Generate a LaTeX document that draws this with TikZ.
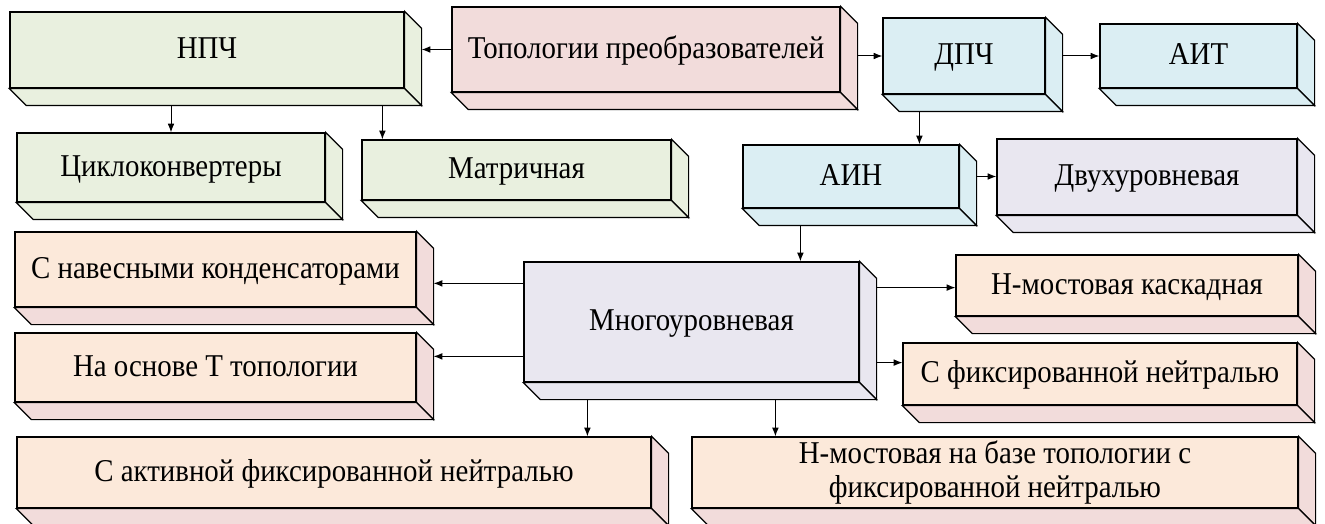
\documentclass[tikz,border=0pt]{standalone}
\usepackage{fontspec}
\setmainfont[FakeStretch=0.91]{Liberation Serif}
\usetikzlibrary{arrows.meta,calc}

\definecolor{grn}{HTML}{E9F0DF}
\definecolor{pnk}{HTML}{F2DCDB}
\definecolor{blu}{HTML}{DBEEF3}
\definecolor{lav}{HTML}{E9E7F0}
\definecolor{pch}{HTML}{FCE9DA}

\tikzset{
  face/.style={draw=black, line width=0.9pt, inner sep=0pt, align=center,
    font=\fontsize{23.8pt}{26.2pt}\selectfont},
  oneline/.style={text height=18pt, text depth=5.2pt},
  twoline/.style={},
  depthface/.style={draw=black, line width=0.9pt, line join=miter},
  arr/.style={draw=black, line width=0.75pt, -{Latex[length=6.5pt,width=5pt]}}
}

% \slab{name}{x1}{y1}{x2}{y2}{front colour}{side colour}{text}{text style}
% draws a block with a front face and two faces receding to the lower right
\newcommand\slab[9]{%
  \node[face, #9, fill=#6, minimum width={(#4-#2)*0.75pt}, minimum height={(#5-#3)*0.75pt}]
    (#1) at ({(#2+#4)/2},{(#3+#5)/2}) {#8};
  \filldraw[depthface, fill=#7] (#1.north east) -- ++(17,17) -- ($(#1.south east)+(17,17)$) -- (#1.south east) -- cycle;
  \filldraw[depthface, fill=#7] (#1.south west) -- (#1.south east) -- ++(17,17) -- ($(#1.south west)+(17,17)$) -- cycle;
  \coordinate (#1-r) at ($(#1.south east)+(17,17)$);
}

\begin{document}
\begin{tikzpicture}[x=0.75pt, y=-0.75pt]
  \useasboundingbox[fill=white] (0,0) rectangle (1325,524);

  % top row
  \slab{npc}{10}{12}{404}{88}{grn}{grn}{НПЧ}{oneline}
  \slab{topo}{452}{7}{840}{92}{pnk}{pnk}{Топологии преобразователей}{oneline}
  \slab{dpc}{883}{18}{1045}{94}{blu}{blu}{ДПЧ}{oneline}
  \slab{ait}{1100}{24}{1297}{88}{blu}{blu}{АИТ}{oneline}

  % second row
  \slab{cyclo}{17}{133}{325}{202}{grn}{grn}{Циклоконвертеры}{oneline}
  \slab{matr}{362}{140}{671}{200}{grn}{grn}{Матричная}{oneline}
  \slab{ain}{743}{145}{959}{208}{blu}{blu}{АИН}{oneline}
  \slab{two}{997}{139}{1297}{215}{lav}{lav}{Двухуровневая}{oneline}

  % multilevel family
  \slab{multi}{524}{262}{859}{382}{lav}{lav}{Многоуровневая}{oneline}
  \slab{cap}{15}{232}{416}{307}{pch}{pnk}{С навесными конденсаторами}{oneline}
  \slab{ttop}{15}{333}{416}{402}{pch}{pnk}{На основе Т топологии}{oneline}
  \slab{hbr}{956}{255}{1298}{316}{pch}{pnk}{Н-мостовая каскадная}{oneline}
  \slab{npcfix}{903}{343}{1297}{405}{pch}{pnk}{С фиксированной нейтралью}{oneline}
  \slab{anpc}{17}{437}{651}{508}{pch}{pnk}{С активной фиксированной нейтралью}{oneline}
  \slab{hnpc}{692}{437}{1298}{508}{pch}{pnk}{Н-мостовая на базе топологии с\\фиксированной нейтралью}{twoline}

  % connectors
  \draw[arr] (topo.west) -- (topo.west -| npc-r);
  \draw[arr] (dpc.west -| topo-r) -- (dpc.west);
  \draw[arr] (ait.west -| dpc-r) -- (ait.west);
  \draw[arr] (cyclo.north |- npc-r) -- (cyclo.north);
  \coordinate (m1) at ($(matr.north west)+(21,0)$);
  \draw[arr] (m1 |- npc-r) -- (m1);
  \coordinate (a1) at ($(ain.north west)+(177,0)$);
  \draw[arr] (a1 |- dpc-r) -- (a1);
  \draw[arr] (ain-r |- ain.east) -- (ain.east -| two.west);
  \coordinate (a2) at ($(multi.north west)+(277,0)$);
  \draw[arr] (a2 |- ain-r) -- (a2);
  \coordinate (l1) at ($(multi.north west)+(0,22)$);
  \coordinate (l2) at ($(multi.north west)+(0,95)$);
  \draw[arr] (l1) -- (l1 -| cap-r);
  \draw[arr] (l2) -- (l2 -| ttop-r);
  \coordinate (r1) at ($(multi-r)+(0,-112)$);
  \coordinate (r2) at ($(multi-r)+(0,-37)$);
  \draw[arr] (r1) -- (r1 -| hbr.west);
  \draw[arr] (r2) -- (r2 -| npcfix.west);
  \coordinate (d1) at ($(multi.south west)+(64,17)$);
  \coordinate (d2) at ($(multi.south west)+(252,17)$);
  \draw[arr] (d1) -- (d1 |- anpc.north);
  \draw[arr] (d2) -- (d2 |- hnpc.north);
\end{tikzpicture}
\end{document}
